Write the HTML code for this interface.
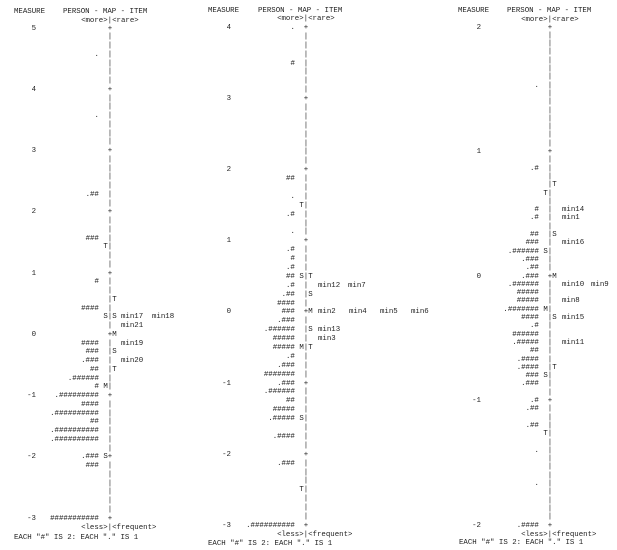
<!DOCTYPE html>
<html><head><meta charset="utf-8">
<style>
html,body{margin:0;padding:0;background:#fff;}
#c{position:relative;width:617px;height:550px;overflow:hidden;font-family:"Liberation Mono","DejaVu Sans Mono",monospace;font-size:7.4px;line-height:9px;color:#222;}
#c div{position:absolute;white-space:pre;}
</style></head><body><div id="c"></div>
<script>
var c=document.getElementById('c');
var W=4.45;
function t(x,y,s,right){var d=document.createElement('div');d.textContent=s;d.style.top=(y-4.5)+'px';
 if(right){d.style.right=(617-x)+'px';}else{d.style.left=x+'px';}c.appendChild(d);}
var panels=[
{X:110,lab:36,y0:29,dy:8.75,K:56,per:7,top:5,mx:14,px:63,hy:12,my:21,fy:528,ey:538,ex:14,
rows:[[3,"."],[10,"."],[19,".##"],[24,"###"],[25,"","T"],[29,"#"],[31,"","","T"],[32,"####"],
[33,"","S","S",[[121,"min17"],[152,"min18"]]],[34,"","","",[[121,"min21"]]],[35,"","","M"],
[36,"####","","",[[121,"min19"]]],[37,"###","","S"],[38,".###","","",[[121,"min20"]]],[39,"##","","T"],
[40,".######"],[41,"#","M"],[42,".#########"],[43,"####"],[44,".##########"],[45,"##"],[46,".##########"],
[47,".##########"],[49,".###","S"],[50,"###"],[56,"###########"]]},
{X:306,lab:231,y0:28.5,dy:8.89,K:56,per:8,top:4,mx:208,px:258,hy:11,my:19,fy:535,ey:544,ex:208,
rows:[[0,"."],[4,"#"],[17,"##"],[19,"."],[20,"","T"],[21,".#"],[23,"."],[25,".#"],[26,"#"],[27,".#"],
[28,"##","S","T"],[29,".#","","",[[318,"min12"],[348,"min7"]]],[30,".##","","S"],[31,"####"],
[32,"###","","M",[[318,"min2"],[349,"min4"],[380,"min5"],[411,"min6"]]],[33,".###"],
[34,".######","","S",[[318,"min13"]]],[35,"#####","","",[[318,"min3"]]],[36,"#####","M","T"],
[37,".#"],[38,".###"],[39,"#######"],[40,".###"],[41,".######"],[42,"##"],[43,"#####"],[44,".#####","S"],
[46,".####"],[49,".###"],[52,"","T"],[56,".##########"]]},
{X:550,lab:481,y0:28,dy:8.3,K:60,per:15,top:2,mx:458,px:507,hy:11,my:20,fy:535,ey:543,ex:459,
rows:[[7,"."],[17,".#"],[19,"","","T"],[20,"","T"],[22,"#","","",[[562,"min14"]]],[23,".#","","",[[562,"min1"]]],
[25,"##","","S"],[26,"###","","",[[562,"min16"]]],[27,".######","S"],[28,".###"],[29,".##"],[30,".###","","M"],
[31,".######","","",[[562,"min10"],[591,"min9"]]],[32,"#####"],[33,"#####","","",[[562,"min8"]]],
[34,".#######","M"],[35,"####","","S",[[562,"min15"]]],[36,".#"],[37,"######"],[38,".#####","","",[[562,"min11"]]],
[39,"##"],[40,".####"],[41,".####","","T"],[42,"###","S"],[43,".###"],[45,".#"],[46,".##"],[48,".##"],
[49,"","T"],[51,"."],[55,"."],[60,".####"]]}
];
panels.forEach(function(p){
 t(p.mx,p.hy,"MEASURE");
 t(p.px,p.hy,"PERSON - MAP - ITEM");
 t(p.X-W/2-6*W,p.my,"<more>|<rare>");
 t(p.X-W/2-6*W,p.fy,"<less>|<frequent>");
 t(p.ex,p.ey,'EACH "#" IS 2: EACH "." IS 1');
 var map={};p.rows.forEach(function(r){map[r[0]]=r;});
 for(var k=0;k<=p.K;k++){
  var y=p.y0+k*p.dy;var isInt=(k%p.per===0);
  t(p.X-W/2,y,isInt?"+":"|");
  if(isInt){var v=p.top-k/p.per;t(p.lab,y,(v<0?"-":"")+Math.abs(v),true);}
  var r=map[k];if(!r)continue;
  if(r[1])t(p.X-W/2-2*W,y,r[1],true);
  if(r[2])t(p.X-W/2-W,y,r[2]);
  if(r[3])t(p.X+W/2,y,r[3]);
  if(r[4])r[4].forEach(function(it){t(it[0],y,it[1]);});
 }
});
</script></body></html>
